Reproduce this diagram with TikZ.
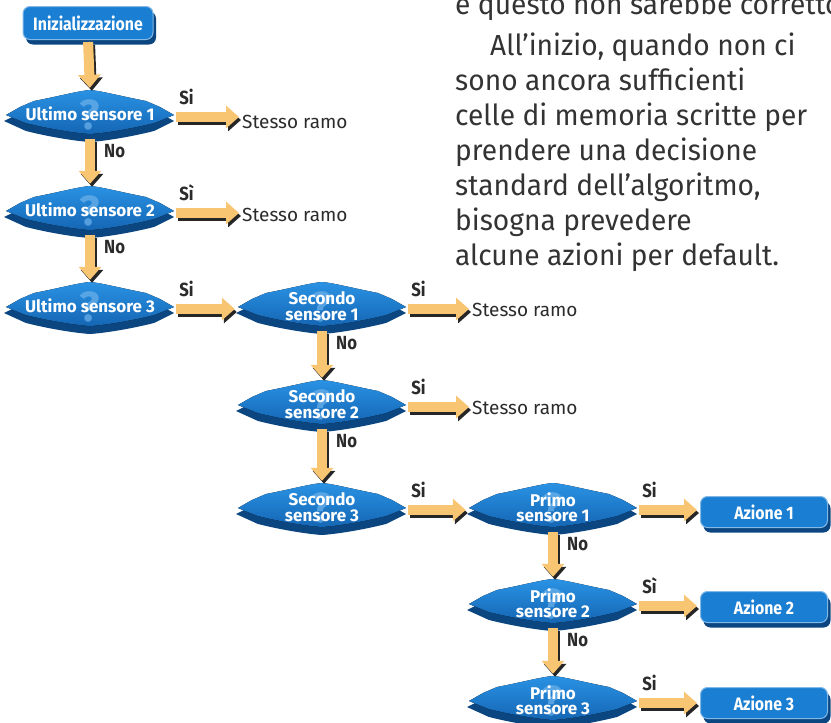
\documentclass[tikz,border=0pt]{standalone}
\usepackage{fontspec}
\setmainfont{Fira Sans}
\newfontfamily\lblfont[FakeStretch=0.88]{Fira Sans}
\newfontfamily\parfont[FakeStretch=0.97]{Fira Sans}
\usetikzlibrary{arrows.meta,shadows,backgrounds,calc}
\definecolor{dblue}{HTML}{1A7ED2}
\definecolor{dbluetop}{HTML}{2A92E4}
\definecolor{dbluebot}{HTML}{1466B4}
\definecolor{dshadow}{HTML}{0C4680}
\definecolor{qmark}{HTML}{6FB3EC}
\definecolor{orangearr}{HTML}{F8C572}
\definecolor{txt}{HTML}{2B2B2B}
\definecolor{partxt}{HTML}{333333}
\tikzset{
  dec/.style={rectangle, minimum width=168pt, minimum height=46pt, inner sep=0pt,
    text=white, font=\bfseries\fontsize{17}{15.5}\selectfont, align=center},
  actbox/.style={rectangle, rounded corners=7pt, fill=dblue, draw=dblue!55!white,
    line width=1pt, text=white, font=\lblfont\bfseries\fontsize{18}{20}\selectfont,
    general shadow={fill=dshadow, shadow xshift=3pt, shadow yshift=-5pt}},
  oarr/.style={draw=orangearr, line width=10pt,
    -{Triangle[width=22pt,length=13pt]}, shorten <=2pt, shorten >=3pt,
    preaction={draw=black!85, line width=10pt, -{Triangle[width=22pt,length=13pt]},
      transform canvas={shift={(2pt,-3pt)}}}},
  lab/.style={text=txt, font=\lblfont\bfseries\fontsize{19}{21}\selectfont, inner sep=0pt},
  ramo/.style={text=txt, font=\fontsize{19}{21}\selectfont, inner sep=0pt, anchor=west},
  partext/.style={text=partxt, font=\parfont\fontsize{29}{35}\selectfont, inner sep=0pt, anchor=base west},
  qm/.style={text=qmark, opacity=0.7, font=\bfseries\fontsize{42}{42}\selectfont, inner sep=0pt},
  decshape/.pic={
    \fill[dshadow] (-86,7) -- (-70,-1) -- (-56,-7) .. controls (-30,-12) and (-12,-16) .. (0,-17)
      .. controls (12,-16) and (30,-12) .. (56,-7) -- (70,-1) -- (84,7) -- (64,17)
      .. controls (40,23) and (15,27) .. (0,28) .. controls (-15,27) and (-40,23) .. (-64,17) -- cycle;
    \fill[top color=dbluetop, bottom color=dbluebot] (-84,1) -- (-70,-7) -- (-56,-13)
      .. controls (-30,-18) and (-12,-23) .. (0,-24) .. controls (12,-23) and (30,-18) .. (56,-13)
      -- (70,-7) -- (84,1) -- (64,9) .. controls (40,15) and (15,19) .. (0,20)
      .. controls (-15,19) and (-40,15) .. (-64,9) -- cycle;
  }
}
\begin{document}
\begin{tikzpicture}[x=1pt,y=-1pt]
\useasboundingbox (0,0) rectangle (831,723);
\clip (0,0) rectangle (831,723);

% paragraph text
\node[partext] (t1) at (455,14) {e questo non sarebbe corretto};
\node[partext] (t2) at (490,55) {All’inizio, quando non ci};
\node[partext] (t3) at (455,90) {sono ancora sufficienti};
\node[partext] (t4) at (455,125) {celle di memoria scritte per};
\node[partext] (t5) at (455,160) {prendere una decisione};
\node[partext] (t6) at (455,195) {standard dell’algoritmo,};
\node[partext] (t7) at (455,230) {bisogna prevedere};
\node[partext] (t8) at (455,265) {alcune azioni per default.};

% boxes
\node[actbox, minimum width=130pt, minimum height=33pt] (init) at (88,23) {Inizializzazione};
\node[actbox, minimum width=127pt, minimum height=31pt] (a1) at (764,512) {Azione 1};
\node[actbox, minimum width=127pt, minimum height=31pt] (a2) at (764,607) {Azione 2};
\node[actbox, minimum width=127pt, minimum height=31pt] (a3) at (764,703) {Azione 3};

% decisions
\node[dec] (u1) at (90,114) {Ultimo sensore 1};
\node[dec] (u2) at (90,210) {Ultimo sensore 2};
\node[dec] (u3) at (90,306) {Ultimo sensore 3};
\node[dec] (s1) at (322,306) {Secondo\\sensore 1};
\node[dec] (s2) at (322,404) {Secondo\\sensore 2};
\node[dec] (s3) at (322,507) {Secondo\\sensore 3};
\node[dec] (p1) at (553,507) {Primo\\sensore 1};
\node[dec] (p2) at (553,603) {Primo\\sensore 2};
\node[dec] (p3) at (553,700) {Primo\\sensore 3};

% decision shapes behind
\begin{scope}[on background layer]
\foreach \n in {u1,u2,u3,s1,s2,s3,p1,p2,p3}{
  \pic at (\n.center) {decshape};
  \node[qm] (q\n) at ([yshift=-1pt]\n.center) {?};
}
\end{scope}

% stesso ramo
\node[ramo] (r1) at (242,122) {Stesso ramo};
\node[ramo] (r2) at (242,215) {Stesso ramo};
\node[ramo] (r3) at (472,310) {Stesso ramo};
\node[ramo] (r4) at (472,408) {Stesso ramo};

% vertical arrows
\draw[oarr] (init.south) -- (u1.north);
\draw[oarr] (u1.south) -- (u2.north);
\draw[oarr] (u2.south) -- (u3.north);
\draw[oarr] (s1.south) -- (s2.north);
\draw[oarr] (s2.south) -- (s3.north);
\draw[oarr] (p1.south) -- (p2.north);
\draw[oarr] (p2.south) -- (p3.north);

% horizontal arrows
\draw[oarr] ([yshift=-3pt]u1.east) -- ([yshift=-3pt]u1.east -| r1.west);
\draw[oarr] ([yshift=-3pt]u2.east) -- ([yshift=-3pt]u2.east -| r2.west);
\draw[oarr] ([yshift=-3pt]u3.east) -- ([yshift=-3pt]u3.east -| s1.west);
\draw[oarr] ([yshift=-3pt]s1.east) -- ([yshift=-3pt]s1.east -| r3.west);
\draw[oarr] ([yshift=-3pt]s2.east) -- ([yshift=-3pt]s2.east -| r4.west);
\draw[oarr] ([yshift=-3pt]s3.east) -- ([yshift=-3pt]s3.east -| p1.west);
\draw[oarr] ([yshift=-3pt]p1.east) -- ([yshift=-3pt]p1.east -| a1.west);
\draw[oarr] ([yshift=-3pt]p2.east) -- ([yshift=-3pt]p2.east -| a2.west);
\draw[oarr] ([yshift=-3pt]p3.east) -- ([yshift=-3pt]p3.east -| a3.west);

% Si labels
\node[lab, anchor=base west] (si1) at ($(u1.east)+(5,-10)$) {Si};
\node[lab, anchor=base west] (si2) at ($(u2.east)+(5,-10)$) {Sì};
\node[lab, anchor=base west] (si3) at ($(u3.east)+(5,-10)$) {Si};
\node[lab, anchor=base west] (si4) at ($(s1.east)+(5,-10)$) {Si};
\node[lab, anchor=base west] (si5) at ($(s2.east)+(5,-10)$) {Si};
\node[lab, anchor=base west] (si6) at ($(s3.east)+(5,-10)$) {Si};
\node[lab, anchor=base west] (si7) at ($(p1.east)+(5,-10)$) {Si};
\node[lab, anchor=base west] (si8) at ($(p2.east)+(5,-10)$) {Sì};
\node[lab, anchor=base west] (si9) at ($(p3.east)+(5,-10)$) {Si};

% No labels
\node[lab, anchor=base west] (no1) at ($(u1.south)+(14,20)$) {No};
\node[lab, anchor=base west] (no2) at ($(u2.south)+(14,20)$) {No};
\node[lab, anchor=base west] (no3) at ($(s1.south)+(14,20)$) {No};
\node[lab, anchor=base west] (no4) at ($(s2.south)+(14,20)$) {No};
\node[lab, anchor=base west] (no5) at ($(p1.south)+(14,20)$) {No};
\node[lab, anchor=base west] (no6) at ($(p2.south)+(14,20)$) {No};
\end{tikzpicture}
\end{document}
